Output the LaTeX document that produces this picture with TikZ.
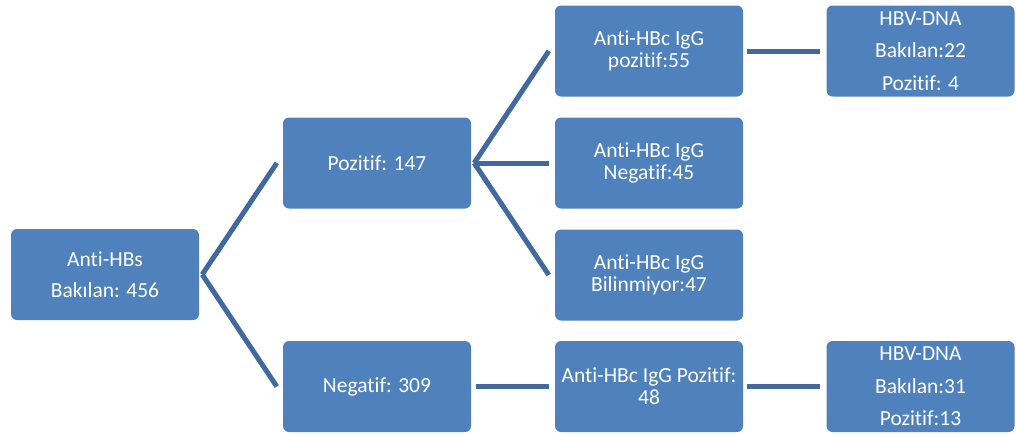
\documentclass[tikz,border=0pt]{standalone}
\usepackage{fontspec}
\setmainfont{Carlito}[Ligatures={NoCommon}]
\definecolor{boxfill}{HTML}{4F81BD}
\definecolor{linkcol}{HTML}{41699E}
\begin{document}
\begin{tikzpicture}[x=1pt,y=-1pt,
  box/.style={draw=none,fill=boxfill,rounded corners=6pt,minimum width=188pt,minimum height=91pt,
    text=white,align=center,inner sep=2pt,font=\fontsize{21.5}{22}\selectfont},
  dnabox/.style={box,font=\fontsize{21.5}{32.5}\selectfont},
  link/.style={draw=linkcol,line width=5pt}]
\useasboundingbox (0,0) rectangle (1016,434);
\node[box] (root) at (105,274.5) {Anti-HBs\\[9pt]Bakılan: 456};
\node[box] (pos) at (377,163) {Pozitif: 147};
\node[box] (neg) at (377,386.5) {Negatif: 309};
\node[box] (c1) at (649,51) {Anti-HBc IgG\\pozitif:55};
\node[box] (c2) at (649,163) {Anti-HBc IgG\\Negatif:45};
\node[box] (c3) at (649,275) {Anti-HBc IgG\\Bilinmiyor:47};
\node[box] (c4) at (649,386.5) {Anti-HBc IgG Pozitif:\\48};
\node[dnabox] (d1) at (920.5,51) {HBV-DNA\\Bakılan:22\\Pozitif: 4};
\node[dnabox] (d2) at (920.5,386.5) {HBV-DNA\\Bakılan:31\\Pozitif:13};
\draw[link] ([xshift=3pt]root.east) -- ([xshift=-6pt]pos.west);
\draw[link] ([xshift=3pt]root.east) -- ([xshift=-6pt]neg.west);
\draw[link] ([xshift=3pt]pos.east) -- ([xshift=-6pt]c1.west);
\draw[link] ([xshift=3pt]pos.east) -- ([xshift=-6pt]c2.west);
\draw[link] ([xshift=3pt]pos.east) -- ([xshift=-6pt]c3.west);
\draw[link] ([xshift=5pt]neg.east) -- ([xshift=-6pt]c4.west);
\draw[link] ([xshift=4pt]c1.east) -- ([xshift=-6pt]d1.west);
\draw[link] ([xshift=4pt]c4.east) -- ([xshift=-6pt]d2.west);
\end{tikzpicture}
\end{document}
